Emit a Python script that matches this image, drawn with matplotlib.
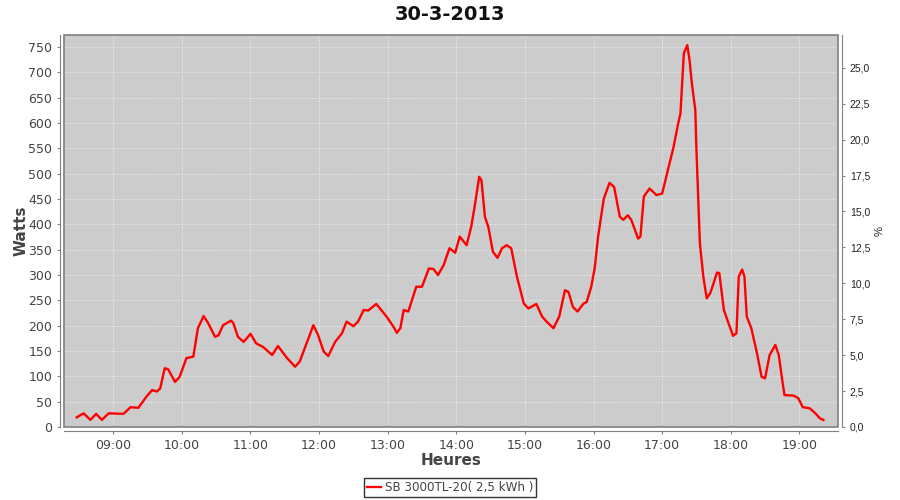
import matplotlib
matplotlib.use("Agg")
import matplotlib.pyplot as plt
from matplotlib.patches import Rectangle
from matplotlib.ticker import FixedLocator, FuncFormatter

# readings of the inverter (time of day, watts)
times = ["08:28", "08:34", "08:40", "08:45", "08:50", "08:56", "09:09", "09:15", "09:22", "09:29",
         "09:34", "09:38", "09:41", "09:45", "09:48", "09:54", "09:58", "10:04", "10:10", "10:14",
         "10:19", "10:23", "10:29", "10:32", "10:36", "10:43", "10:45", "10:49", "10:54", "11:00",
         "11:05", "11:11", "11:19", "11:24", "11:32", "11:39", "11:43", "11:49", "11:55", "11:59",
         "12:04", "12:08", "12:14", "12:20", "12:24", "12:30", "12:34", "12:39", "12:43", "12:50",
         "12:59", "13:05", "13:08", "13:11", "13:14", "13:18", "13:25", "13:30", "13:36", "13:40",
         "13:44", "13:49", "13:54", "13:59", "14:03", "14:09", "14:13", "14:16", "14:20", "14:22",
         "14:25", "14:28", "14:32", "14:36", "14:40", "14:44", "14:48", "14:53", "14:59", "15:03",
         "15:10", "15:15", "15:19", "15:25", "15:30", "15:35", "15:38", "15:42", "15:46", "15:51",
         "15:54", "15:58", "16:01", "16:04", "16:09", "16:14", "16:18", "16:23", "16:26", "16:30",
         "16:33", "16:39", "16:41", "16:44", "16:49", "16:55", "17:00", "17:05", "17:10", "17:14",
         "17:16", "17:19", "17:22", "17:24", "17:26", "17:29", "17:30", "17:33", "17:36", "17:39",
         "17:42", "17:45", "17:48", "17:50", "17:54", "17:58", "18:02", "18:05", "18:07", "18:10",
         "18:12", "18:14", "18:18", "18:23", "18:27", "18:30", "18:34", "18:39", "18:42", "18:45",
         "18:47", "18:55", "18:59", "19:03", "19:09", "19:14", "19:18", "19:21"]
watts = [19, 27, 14, 26, 14, 27, 26, 39, 38, 60,
         73, 70, 76, 116, 114, 89, 99, 136, 139, 195,
         219, 205, 178, 181, 201, 210, 205, 178, 168, 184,
         165, 158, 142, 160, 136, 119, 129, 165, 201, 182,
         149, 140, 168, 185, 208, 199, 208, 231, 230, 243,
         218, 198, 186, 195, 231, 228, 277, 277, 313, 312,
         300, 320, 353, 344, 376, 359, 395, 435, 494, 487,
         415, 395, 346, 334, 353, 359, 353, 297, 244, 234,
         243, 218, 208, 195, 218, 270, 267, 237, 228, 243,
         247, 277, 313, 376, 451, 482, 474, 415, 409, 418,
         409, 372, 376, 455, 471, 458, 461, 507, 553, 599,
         619, 738, 754, 724, 678, 626, 547, 363, 297, 254,
         264, 284, 305, 304, 231, 205, 180, 185, 297, 311,
         297, 218, 195, 145, 99, 96, 142, 162, 142, 93,
         63, 62, 57, 39, 37, 27, 17, 14]

hour_ticks = ["09:00", "10:00", "11:00", "12:00", "13:00", "14:00",
              "15:00", "16:00", "17:00", "18:00", "19:00"]
watt_ticks = list(range(0, 751, 50))
pct_ticks = [0, 2.5, 5, 7.5, 10, 12.5, 15, 17.5, 20, 22.5, 25]

title = "30-3-2013"
series_label = "SB 3000TL-20( 2,5 kWh )"


def to_minutes(t):
    h, m = t.split(":")
    return int(h) * 60 + int(m)


x = [to_minutes(t) for t in times]

plt.rcParams['font.family'] = ['DejaVu Sans']
axis_grey = "#808080"
label_grey = "#444444"

fig = plt.figure(figsize=(9, 5), dpi=100)
ax = fig.add_axes([64 / 900, 1 - 427 / 500, (838 - 64) / 900, (427 - 35) / 500])
ax.set_facecolor("#cccccc")

ax.plot(x, watts, color="#ff0000", lw=1.7, solid_joinstyle="round", label=series_label, zorder=3)

ax.set_xlim(8 * 60 + 16.9, 19 * 60 + 33.8)
ax.set_ylim(0, 774)

ax.xaxis.set_major_locator(FixedLocator([to_minutes(t) for t in hour_ticks]))
ax.set_xticklabels(hour_ticks)
ax.set_yticks(watt_ticks)
ax.grid(True, color="white", ls=(0, (2, 2)), lw=0.5, alpha=0.8)

for side in ["left", "bottom"]:
    ax.spines[side].set_position(("outward", 3))
    ax.spines[side].set_color(axis_grey)
for side in ["top", "right"]:
    ax.spines[side].set_visible(False)
ax.add_patch(Rectangle((0, 0), 1, 1, transform=ax.transAxes, fill=False,
                       ec=axis_grey, lw=1.2, zorder=4, clip_on=False))

ax.tick_params(colors=axis_grey, labelcolor=label_grey, labelsize=9, length=2, width=0.8)
ax.set_xlabel("Heures", fontsize=11, fontweight="bold", color=label_grey, labelpad=1)
ax.set_ylabel("Watts", fontsize=11, fontweight="bold", color=label_grey, labelpad=0)

ax2 = ax.twinx()
ax2.set_ylim(0, 27.28)
ax2.set_yticks(pct_ticks)
ax2.yaxis.set_major_formatter(FuncFormatter(lambda v, p: f"{v:.1f}".replace(".", ",")))
for side in ["left", "top", "bottom"]:
    ax2.spines[side].set_visible(False)
ax2.spines["right"].set_position(("outward", 3))
ax2.spines["right"].set_color(axis_grey)
ax2.tick_params(colors=axis_grey, labelcolor="#222222", labelsize=7.5, length=2, width=0.8)
for lbl in ax2.get_yticklabels():
    lbl.set_fontfamily("Liberation Sans")
ax2.set_ylabel("%", fontsize=8, color="#222222", family="Liberation Sans", labelpad=3)

fig.text(0.5, 1 - 14 / 500, title, ha="center", va="center",
         fontsize=14, fontweight="bold", color="#111111")

leg = fig.legend(handles=ax.get_lines(), loc="center", bbox_to_anchor=(0.5, 1 - 487.5 / 500),
                 frameon=True, fancybox=False, fontsize=8.6, handlelength=1.2,
                 handletextpad=0.3, borderpad=0.25, labelcolor=label_grey)
leg.get_frame().set_edgecolor("black")
leg.get_frame().set_linewidth(1.0)

fig.savefig("out.png", dpi=100)
